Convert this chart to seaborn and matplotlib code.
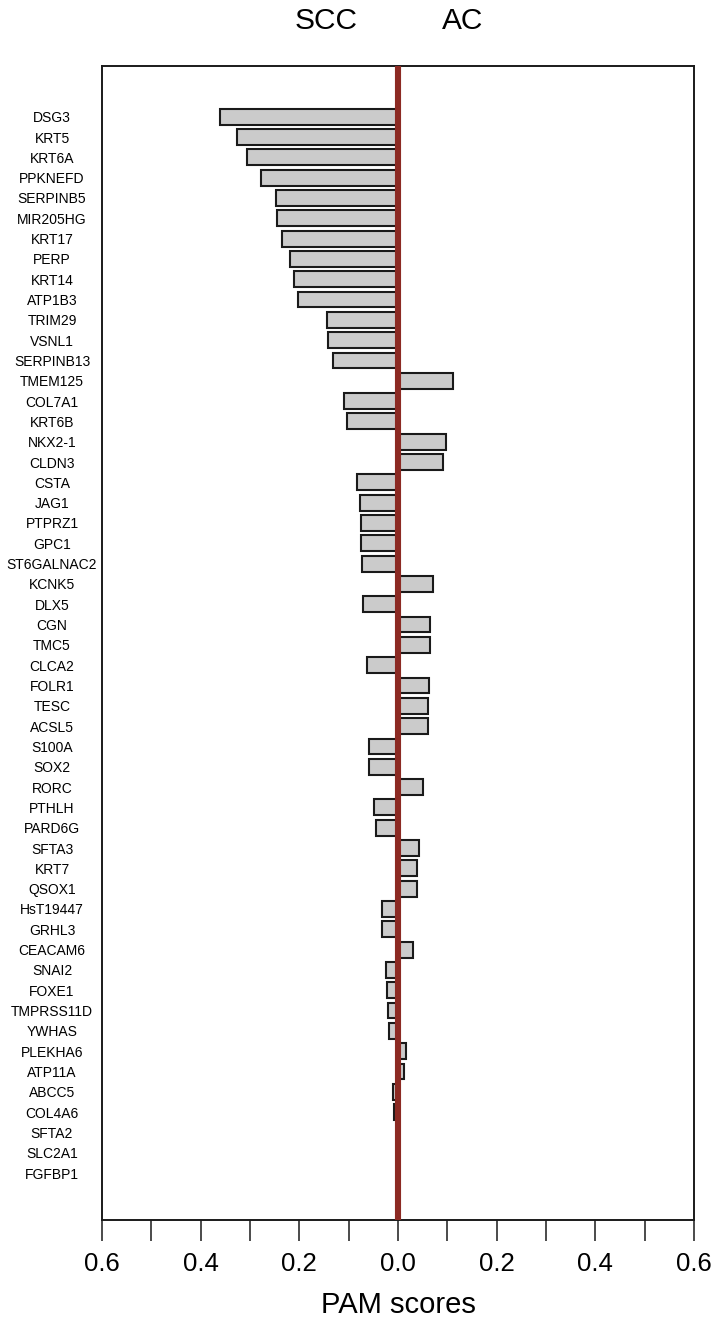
import numpy as np
import pandas as pd
import matplotlib
matplotlib.use("Agg")
import matplotlib.pyplot as plt
import seaborn as sns

# PAM scores per gene (negative = SCC side, positive = AC side)
genes = ["DSG3", "KRT5", "KRT6A", "PPKNEFD", "SERPINB5", "MIR205HG", "KRT17",
         "PERP", "KRT14", "ATP1B3", "TRIM29", "VSNL1", "SERPINB13", "TMEM125",
         "COL7A1", "KRT6B", "NKX2-1", "CLDN3", "CSTA", "JAG1", "PTPRZ1", "GPC1",
         "ST6GALNAC2", "KCNK5", "DLX5", "CGN", "TMC5", "CLCA2", "FOLR1", "TESC",
         "ACSL5", "S100A", "SOX2", "RORC", "PTHLH", "PARD6G", "SFTA3", "KRT7",
         "QSOX1", "HsT19447", "GRHL3", "CEACAM6", "SNAI2", "FOXE1", "TMPRSS11D",
         "YWHAS", "PLEKHA6", "ATP11A", "ABCC5", "COL4A6", "SFTA2", "SLC2A1", "FGFBP1"]
scores = [-0.360, -0.327, -0.306, -0.277, -0.247, -0.245, -0.235,
          -0.219, -0.211, -0.202, -0.143, -0.141, -0.132, 0.111,
          -0.109, -0.103, 0.097, 0.091, -0.083, -0.077, -0.075, -0.074,
          -0.073, 0.070, -0.070, 0.064, 0.064, -0.062, 0.062, 0.061,
          0.061, -0.059, -0.059, 0.051, -0.049, -0.045, 0.043, 0.038,
          0.038, -0.033, -0.032, 0.031, -0.024, -0.022, -0.021,
          -0.018, 0.016, 0.012, -0.010, -0.008, 0.0, 0.0, 0.0]

major_ticks = [-0.6, -0.4, -0.2, 0.0, 0.2, 0.4, 0.6]
minor_ticks = [-0.5, -0.3, -0.1, 0.1, 0.3, 0.5]
tick_labels = ["0.6", "0.4", "0.2", "0.0", "0.2", "0.4", "0.6"]
side_labels = ["SCC", "AC"]
side_pos = [-0.146, 0.132]

sns.set_style("white")
plt.rcParams['font.family'] = ['Liberation Sans', 'DejaVu Sans']
plt.rcParams['text.color'] = 'black'
plt.rcParams['xtick.color'] = 'black'
plt.rcParams['ytick.color'] = 'black'
plt.rcParams['axes.labelcolor'] = 'black'

df = pd.DataFrame({"gene": genes, "score": scores})

fig = plt.figure(figsize=(7.17, 13.22), dpi=100)
ax = fig.add_axes([102 / 717, 1 - 1220 / 1322, (694 - 102) / 717, (1220 - 65.7) / 1322])

sns.barplot(data=df, x="score", y="gene", orient="h", color="#cbcbcb",
            edgecolor="#1a1a1a", linewidth=1.5, width=0.78, saturation=1, ax=ax)

ax.axvline(0, color="#8c2a23", lw=4.4, zorder=5, solid_capstyle="butt")

ax.set_xlim(-0.6, 0.6)
ax.set_ylim(54.31, -2.51)

ax.set_xticks(major_ticks)
ax.set_xticklabels(tick_labels)
ax.set_xticks(minor_ticks, minor=True)
ax.tick_params(axis="x", which="both", direction="out", length=15, width=1.1,
               color="#1a1a1a", bottom=True)
ax.tick_params(axis="x", which="major", labelsize=18.5, pad=8)
ax.tick_params(axis="y", length=0, labelsize=10, pad=36)
plt.setp(ax.get_yticklabels(), ha="center")

ax.set_xlabel("PAM scores", fontsize=21, labelpad=11)
ax.set_ylabel("")

for sp in ax.spines.values():
    sp.set_visible(True)
    sp.set_linewidth(1.4)
    sp.set_color("#1a1a1a")

for lab, xp in zip(side_labels, side_pos):
    ax.text(xp, 1.039, lab, transform=ax.get_xaxis_transform(),
            ha="center", va="center", fontsize=21.5)

fig.savefig("out.png", dpi=100)
